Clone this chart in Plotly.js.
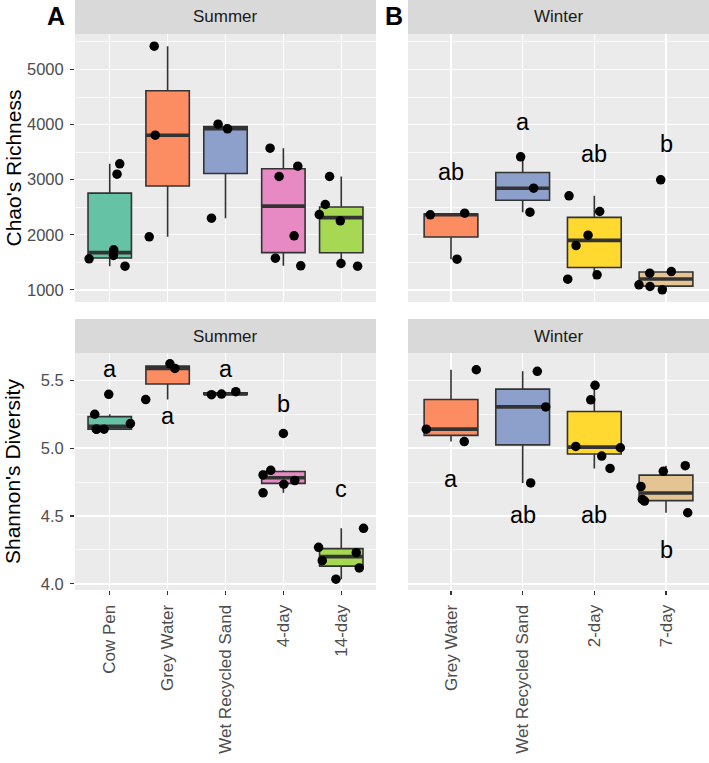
<!DOCTYPE html>
<html><head><meta charset="utf-8">
<script src="https://cdn.plot.ly/plotly-3.0.1.min.js"></script>
<style>html,body{margin:0;padding:0;background:#fff}#chart{width:709px;height:763px}</style>
</head><body><div id="chart"></div>
<script>
// ---------- data ----------
const summerCats = ['Cow Pen', 'Grey Water', 'Wet Recycled Sand', '4-day', '14-day'];
const winterCats = ['Grey Water', 'Wet Recycled Sand', '2-day', '7-day'];

const chaoSummer = [
  [1563, 3288, 3099, 1726, 1623, 1429],
  [5423, 3807, 1962],
  [4007, 3923, 2300],
  [3571, 3244, 3057, 1980, 1574, 1436],
  [3057, 2549, 2367, 2253, 1478, 1429]
];
const chaoSummerJitter = [
  [-0.357, 0.173, 0.126, 0.069, 0.064, 0.264],
  [-0.231, -0.214, -0.318],
  [-0.128, 0.035, -0.242],
  [-0.23, 0.249, -0.074, 0.185, -0.138, 0.3],
  [-0.202, -0.276, -0.38, -0.017, -0.005, 0.282]
];
const chaoWinter = [
  [2362, 2391, 1556],
  [3415, 2845, 2409],
  [2707, 2422, 1992, 1804, 1272, 1193],
  [2997, 1332, 1302, 1091, 1060, 1000]
];
const chaoWinterJitter = [
  [-0.289, 0.191, 0.084],
  [-0.028, 0.153, 0.102],
  [-0.353, 0.075, -0.088, -0.255, 0.038, -0.371],
  [-0.074, 0.074, -0.227, -0.377, -0.223, -0.052]
];
const shannonSummer = [
  [5.397, 5.25, 5.181, 5.14, 5.14, 5.14],
  [5.358, 5.622, 5.588],
  [5.394, 5.399, 5.416],
  [5.108, 4.837, 4.803, 4.761, 4.734, 4.671],
  [4.269, 4.171, 4.034, 4.230, 4.117, 4.409]
];
const shannonSummerJitter = [
  [-0.017, -0.259, 0.357, -0.23, -0.098, -0.23],
  [-0.378, 0.04, 0.126],
  [-0.242, -0.069, 0.178],
  [0, -0.218, -0.351, 0.197, 0.007, -0.351],
  [-0.392, -0.328, -0.092, 0.259, 0.311, 0.385]
];
const shannonWinter = [
  [5.578, 5.140, 5.049],
  [5.566, 5.304, 4.744],
  [5.463, 5.356, 5.013, 5.003, 4.942, 4.851],
  [4.829, 4.871, 4.717, 4.61, 4.622, 4.524]
];
const shannonWinterJitter = [
  [0.353, -0.345, 0.185],
  [0.204, 0.321, 0.112],
  [0.01, -0.05, -0.259, 0.363, 0.103, 0.219],
  [-0.038, 0.269, -0.349, -0.30, -0.33, 0.303]
];

const chaoWinterLetters = ['ab', 'a', 'ab', 'b'];
const chaoWinterLetterY = [3135, 4050, 3469, 3640];
const shannonSummerLetters = ['a', 'a', 'a', 'b', 'c'];
const shannonSummerLetterY = [5.583, 5.236, 5.583, 5.324, 4.70];
const shannonWinterLetters = ['a', 'ab', 'ab', 'b'];
const shannonWinterLetterY = [4.77, 4.504, 4.504, 4.247];

// ---------- styles ----------
const summerColors = ['#66C2A5', '#FC8D62', '#8DA0CB', '#E78AC3', '#A6D854'];
const winterColors = ['#FC8D62', '#8DA0CB', '#FFD92F', '#E5C494'];
const FONT = 'Liberation Sans, Arial, Helvetica, sans-serif';
const W = 709, H = 763;
const domA = [75 / W, 376 / W], domB = [408 / W, 709 / W];
const domTop = [1 - 302 / H, 1 - 34 / H], domBot = [1 - 590 / H, 1 - 353 / H];
const BOXW = 0.75;

function q7(s, p) { const h = (s.length - 1) * p, lo = Math.floor(h), hi = Math.ceil(h); return s[lo] + (h - lo) * (s[hi] - s[lo]); }
function stats(v) {
  const s = v.slice().sort((a, b) => a - b);
  const q1 = q7(s, 0.25), med = q7(s, 0.5), q3 = q7(s, 0.75), iqr = q3 - q1;
  const lo = s.filter(x => x >= q1 - 1.5 * iqr), hi = s.filter(x => x <= q3 + 1.5 * iqr);
  return { q1, med, q3, lf: Math.min(...lo), uf: Math.max(...hi) };
}
function expRange(groupsList) {
  const all = groupsList.flat(2);
  const mn = Math.min(...all), mx = Math.max(...all), d = (mx - mn) * 0.05;
  return [mn - d, mx + d];
}

const traces = [];
function panel(groups, jit, colors, xa, ya) {
  const mx = [], my = [], px = [], py = [];
  groups.forEach((g, i) => {
    const st = stats(g), pos = i + 1;
    traces.push({
      type: 'box', orientation: 'v', xaxis: xa, yaxis: ya, x: [pos],
      q1: [st.q1], median: [st.med], q3: [st.q3], lowerfence: [st.lf], upperfence: [st.uf],
      width: BOXW, whiskerwidth: 0, boxpoints: false, fillcolor: colors[i],
      line: { color: '#333333', width: 1.6 }, showlegend: false, hoverinfo: 'skip'
    });
    mx.push(pos - BOXW / 2, pos + BOXW / 2, null); my.push(st.med, st.med, null);
    g.forEach((v, k) => { px.push(pos + jit[i][k]); py.push(v); });
  });
  traces.push({ type: 'scatter', mode: 'lines', xaxis: xa, yaxis: ya, x: mx, y: my,
    line: { color: '#333333', width: 3.6 }, showlegend: false, hoverinfo: 'skip' });
  traces.push({ type: 'scatter', mode: 'markers', xaxis: xa, yaxis: ya, x: px, y: py,
    marker: { color: '#000000', size: 9.5 }, showlegend: false, hoverinfo: 'skip', cliponaxis: false });
}
panel(chaoSummer, chaoSummerJitter, summerColors, 'x', 'y');
panel(chaoWinter, chaoWinterJitter, winterColors, 'x2', 'y2');
panel(shannonSummer, shannonSummerJitter, summerColors, 'x3', 'y3');
panel(shannonWinter, shannonWinterJitter, winterColors, 'x4', 'y4');

const chaoRange = expRange([chaoSummer, chaoWinter]);
const shanRange = expRange([shannonSummer, shannonWinter]);

const tickFont = { family: FONT, size: 17, color: '#4D4D4D' };
function xax(dom, anchor, cats, showLabels) {
  return {
    domain: dom, anchor: anchor, range: [0.4, cats.length + 0.6],
    tickmode: 'array', tickvals: cats.map((c, i) => i + 1), ticktext: cats,
    showticklabels: showLabels, ticks: showLabels ? 'outside' : '', ticklen: 4, tickwidth: 1.1, tickcolor: '#333333',
    tickangle: -90, tickfont: tickFont, showgrid: true, gridcolor: '#FFFFFF', gridwidth: 1.4,
    zeroline: false, showline: false, fixedrange: true, ticklabelstandoff: 3
  };
}
function yax(dom, anchor, range, dtick, minorD, fmt, showLabels) {
  return {
    domain: dom, anchor: anchor, range: range, tickmode: 'linear', tick0: 0, dtick: dtick, tickformat: fmt,
    showticklabels: showLabels, ticks: showLabels ? 'outside' : '', ticklen: 4, tickwidth: 1.1, tickcolor: '#333333',
    tickfont: { family: FONT, size: 16.5, color: '#4D4D4D' }, showgrid: true, gridcolor: '#FFFFFF', gridwidth: 1.4,
    minor: { tick0: 0, dtick: minorD, showgrid: true, gridcolor: '#FFFFFF', gridwidth: 0.7, ticks: '' },
    zeroline: false, showline: false, fixedrange: true, ticklabelstandoff: 3
  };
}

const annotations = [];
const shapes = [];
function strip(dom, yTopPx, yBotPx, label) {
  shapes.push({ type: 'rect', xref: 'paper', yref: 'paper', x0: dom[0], x1: dom[1],
    y0: 1 - yBotPx / H, y1: 1 - yTopPx / H, fillcolor: '#D9D9D9', line: { width: 0 }, layer: 'below' });
  annotations.push({ xref: 'paper', yref: 'paper', x: (dom[0] + dom[1]) / 2, y: 1 - (yTopPx + yBotPx) / 2 / H,
    xanchor: 'center', yanchor: 'middle', text: label, showarrow: false,
    font: { family: FONT, size: 17, color: '#1A1A1A' } });
}
strip(domA, 0, 34, 'Summer');
strip(domB, 0, 34, 'Winter');
strip(domA, 319, 353, 'Summer');
strip(domB, 319, 353, 'Winter');

function letters(txts, ys, xa, ya) {
  txts.forEach((t, i) => annotations.push({ xref: xa, yref: ya, x: i + 1, y: ys[i], text: t, showarrow: false,
    xanchor: 'center', yanchor: 'middle', font: { family: FONT, size: 23.5, color: '#000000' } }));
}
letters(chaoWinterLetters, chaoWinterLetterY, 'x2', 'y2');
letters(shannonSummerLetters, shannonSummerLetterY, 'x3', 'y3');
letters(shannonWinterLetters, shannonWinterLetterY, 'x4', 'y4');

// panel tags and y titles
annotations.push({ xref: 'paper', yref: 'paper', x: 56 / W, y: 1 - 16 / H, text: '<b>A</b>', showarrow: false,
  xanchor: 'center', yanchor: 'middle', font: { family: FONT, size: 25, color: '#000000' } });
annotations.push({ xref: 'paper', yref: 'paper', x: 394 / W, y: 1 - 16 / H, text: '<b>B</b>', showarrow: false,
  xanchor: 'center', yanchor: 'middle', font: { family: FONT, size: 25, color: '#000000' } });
annotations.push({ xref: 'paper', yref: 'paper', x: 0, y: (domTop[0] + domTop[1]) / 2, text: "Chao's Richness",
  textangle: -90, showarrow: false, xanchor: 'left', yanchor: 'middle', borderpad: 0,
  font: { family: FONT, size: 21, color: '#000000' } });
annotations.push({ xref: 'paper', yref: 'paper', x: 0, y: (domBot[0] + domBot[1]) / 2, text: "Shannon's Diversity",
  textangle: -90, showarrow: false, xanchor: 'left', yanchor: 'middle', borderpad: 0,
  font: { family: FONT, size: 21, color: '#000000' } });

const layout = {
  width: W, height: H, margin: { l: 0, r: 0, t: 0, b: 0 },
  paper_bgcolor: '#FFFFFF', plot_bgcolor: '#EBEBEB', showlegend: false,
  xaxis: xax(domA, 'y', summerCats, false),
  xaxis2: xax(domB, 'y2', winterCats, false),
  xaxis3: xax(domA, 'y3', summerCats, true),
  xaxis4: xax(domB, 'y4', winterCats, true),
  yaxis: yax(domTop, 'x', chaoRange, 1000, 500, 'd', true),
  yaxis2: yax(domTop, 'x2', chaoRange, 1000, 500, 'd', false),
  yaxis3: yax(domBot, 'x3', shanRange, 0.5, 0.25, '.1f', true),
  yaxis4: yax(domBot, 'x4', shanRange, 0.5, 0.25, '.1f', false),
  shapes: shapes, annotations: annotations
};
Plotly.newPlot('chart', traces, layout, { displayModeBar: false, staticPlot: true });
</script></body></html>
